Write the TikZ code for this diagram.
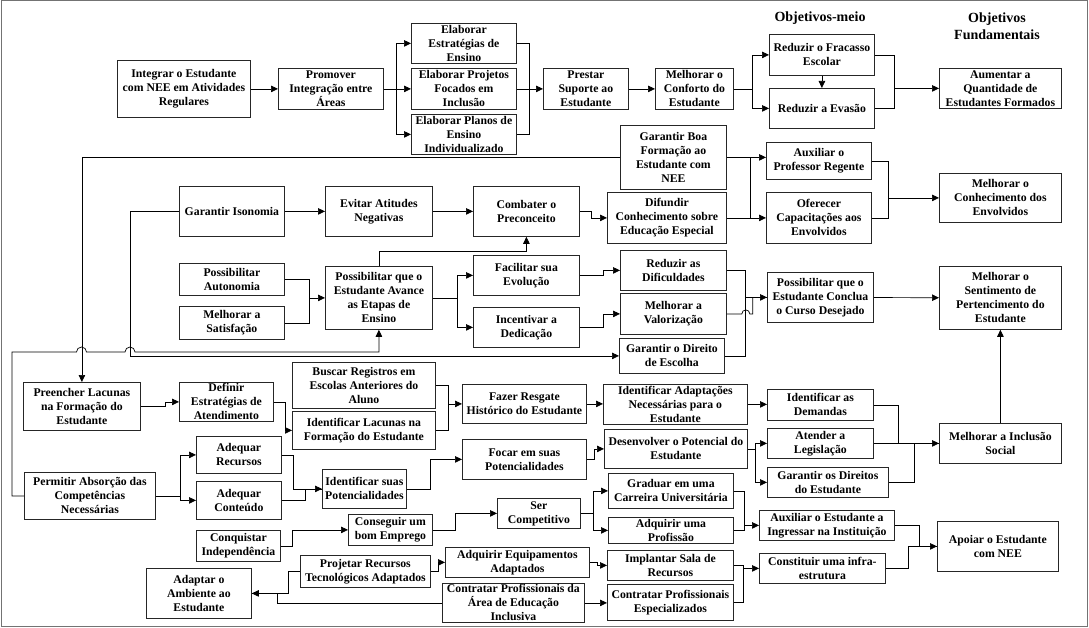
\documentclass[tikz,border=0pt]{standalone}
\usepackage{fontspec}
\setmainfont{Liberation Serif}
\usetikzlibrary{arrows.meta}

\begin{document}
\begin{tikzpicture}[x=1pt, y=-1pt, line width=0.7pt,
  box/.style = {shape=rectangle, sharp corners, draw=black!85,
    line width=0.8pt, align=center, inner sep=0.5pt, anchor=north west,
    font=\fontsize{11.75}{14}\selectfont\bfseries},
  sz/.style 2 args = {minimum width=#1pt, minimum height=#2pt},
  head/.style = {align=center, font=\fontsize{14}{17}\selectfont\bfseries},
  arr/.style = {-{Triangle[length=7pt, width=6.5pt]}}]
  \useasboundingbox (0,0) rectangle (1089,628);
  \draw[black!55, line width=1pt] (1,1) rectangle (1087,626);

  \node[head] (objmeio) at (820,18) {Objetivos-meio};
  \node[head] (objfund) at (997,26.5) {Objetivos\\Fundamentais};

  % top row
  \node[box, sz={133}{57}] (integrar) at (117,60) {Integrar o Estudante\\com NEE em Atividades\\Regulares};
  \node[box, sz={105}{41}] (promover) at (278,68) {Promover\\Integração entre\\Áreas};
  \node[box, sz={105}{40}] (elabestr) at (411,23) {Elaborar\\Estratégias de\\Ensino};
  \node[box, sz={105}{41}] (elabproj) at (411,68) {Elaborar Projetos\\Focados em\\Inclusão};
  \node[box, sz={105}{40}] (elabplan) at (411,114) {Elaborar Planos de\\Ensino\\Individualizado};
  \node[box, sz={85}{41}] (prestar) at (543,68) {Prestar\\Suporte ao\\Estudante};
  \node[box, sz={78}{41}] (conforto) at (655,68) {Melhorar o\\Conforto do\\Estudante};
  \node[box, sz={105}{41}] (fracasso) at (769,34) {Reduzir o Fracasso\\Escolar};
  \node[box, sz={105}{40}] (evasao) at (769,88) {Reduzir a Evasão};
  \node[box, sz={122}{40}] (aumentar) at (939,68) {Aumentar a\\Quantidade de\\Estudantes Formados};

  % knowledge
  \node[box, sz={106}{64}] (garboa) at (620,125) {Garantir Boa\\Formação ao\\Estudante com\\NEE};
  \node[box, sz={105}{37}] (auxprof) at (766,142) {Auxiliar o\\Professor Regente};
  \node[box, sz={105}{51}] (oferecer) at (766,192) {Oferecer\\Capacitações aos\\Envolvidos};
  \node[box, sz={122}{49}] (conhec) at (939,173) {Melhorar o\\Conhecimento dos\\Envolvidos};
  \node[box, sz={105}{50}] (isonomia) at (179,186) {Garantir Isonomia};
  \node[box, sz={107}{50}] (evitar) at (325,186) {Evitar Atitudes\\Negativas};
  \node[box, sz={106}{50}] (combater) at (473,186) {Combater o\\Preconceito};
  \node[box, sz={119}{51}] (difundir) at (607,192) {Difundir\\Conhecimento sobre\\Educação Especial};

  % belonging
  \node[box, sz={105}{32}] (autonomia) at (179,263) {Possibilitar\\Autonomia};
  \node[box, sz={105}{33}] (satisf) at (179,306) {Melhorar a\\Satisfação};
  \node[box, sz={107}{63}] (avance) at (325,266) {Possibilitar que o\\Estudante Avance\\as Etapas de\\Ensino};
  \node[box, sz={106}{40}] (facilitar) at (473,255) {Facilitar sua\\Evolução};
  \node[box, sz={106}{40}] (incentivar) at (473,307) {Incentivar a\\Dedicação};
  \node[box, sz={106}{40}] (reduzdif) at (620,250) {Reduzir as\\Dificuldades};
  \node[box, sz={106}{41}] (valoriz) at (620,293) {Melhorar a\\Valorização};
  \node[box, sz={105}{35}] (direito) at (619,338) {Garantir o Direito\\de Escolha};
  \node[box, sz={106}{50}] (conclua) at (767,272) {Possibilitar que o\\Estudante Conclua\\o Curso Desejado};
  \node[box, sz={122}{63}] (sentimento) at (939,266) {Melhorar o\\Sentimento de\\Pertencimento do\\Estudante};

  % inclusion
  \node[box, sz={117}{48}] (preencher) at (23,382) {Preencher Lacunas\\na Formação do\\Estudante};
  \node[box, sz={94}{39}] (definir) at (179,382) {Definir\\Estratégias de\\Atendimento};
  \node[box, sz={143}{46}] (buscar) at (292,362) {Buscar Registros em\\Escolas Anteriores do\\Aluno};
  \node[box, sz={143}{38}] (identlac) at (292,411) {Identificar Lacunas na\\Formação do Estudante};
  \node[box, sz={124}{39}] (resgate) at (462,384) {Fazer Resgate\\Histórico do Estudante};
  \node[box, sz={144}{40}] (adapt) at (603,384) {Identificar Adaptações\\Necessárias para o\\Estudante};
  \node[box, sz={106}{31}] (demandas) at (767,389) {Identificar as\\Demandas};
  \node[box, sz={124}{40}] (focar) at (462,439) {Focar em suas\\Potencialidades};
  \node[box, sz={143}{39}] (desenv) at (604,429) {Desenvolver o Potencial do\\Estudante};
  \node[box, sz={106}{30}] (legisl) at (767,428) {Atender a\\Legislação};
  \node[box, sz={121}{30}] (direitos) at (767,467) {Garantir os Direitos\\do Estudante};
  \node[box, sz={122}{40}] (inclusao) at (939,423) {Melhorar a Inclusão\\Social};
  \node[box, sz={85}{37}] (recursos) at (196,436) {Adequar\\Recursos};
  \node[box, sz={85}{38}] (conteudo) at (196,481) {Adequar\\Conteúdo};
  \node[box, sz={131}{47}] (permitir) at (24,472) {Permitir Absorção das\\Competências\\Necessárias};
  \node[box, sz={84}{39}] (identpot) at (322,469) {Identificar suas\\Potencialidades};

  % support
  \node[box, sz={84}{31}] (conquistar) at (196,530) {Conquistar\\Independência};
  \node[box, sz={84}{31}] (emprego) at (348,514) {Conseguir um\\bom Emprego};
  \node[box, sz={83}{30}] (competitivo) at (497,498) {Ser\\Competitivo};
  \node[box, sz={125}{35}] (graduar) at (608,473) {Graduar em uma\\Carreira Universitária};
  \node[box, sz={125}{26}] (profissao) at (608,517) {Adquirir uma\\Profissão};
  \node[box, sz={135}{30}] (ingressar) at (759,510) {Auxiliar o Estudante a\\Ingressar na Instituição};
  \node[box, sz={144}{30}] (equip) at (445,547) {Adquirir Equipamentos\\Adaptados};
  \node[box, sz={126}{30}] (sala) at (607,550) {Implantar Sala de\\Recursos};
  \node[box, sz={142}{39}] (contrarea) at (442,583) {Contratar Profissionais da\\Área de Educação\\Inclusiva};
  \node[box, sz={126}{36}] (contresp) at (607,584) {Contratar Profissionais\\Especializados};
  \node[box, sz={126}{30}] (infra) at (759,553) {Constituir uma infra-\\estrutura};
  \node[box, sz={121}{50}] (apoiar) at (937,521) {Apoiar o Estudante\\com NEE};
  \node[box, sz={130}{32}] (projetar) at (300,555) {Projetar Recursos\\Tecnológicos Adaptados};
  \node[box, sz={105}{50}] (ambiente) at (146,568) {Adaptar o\\Ambiente ao\\Estudante};

  % top row connectors
  \draw[arr] (integrar) -- (promover);
  \draw[arr] (promover.east) -- ++(13,0) |- (elabestr.west);
  \draw[arr] (promover.east) -- ++(13,0) |- (elabplan.west);
  \draw[arr] (promover) -- (elabproj);
  \draw (elabestr.east) -- ++(13,0) |- (elabplan.east);
  \draw[arr] (elabproj) -- (prestar);
  \draw[arr] (prestar) -- (conforto);
  \draw[arr] (conforto.east) -- ++(19,0) |- (fracasso.west);
  \draw[arr] (conforto.east) -- ++(19,0) |- (evasao.west);
  \draw[arr] (fracasso) -- (evasao);
  \draw (fracasso.east) -- ++(20,0) |- (evasao.east);
  \draw[arr] (aumentar.west) ++(-45,0) -- (aumentar.west);

  % knowledge connectors
  \draw[arr] (garboa.west) -| (preencher.north);
  \draw[arr] (garboa.east) -- (garboa.east -| auxprof.west);
  \draw (garboa.east) ++(24,0) |- (difundir.east);
  \draw[arr] (difundir) -- (oferecer);
  \draw (auxprof.east) -- ++(17,0) |- (oferecer.east);
  \draw[arr] (conhec.west) ++(-51,0) -- (conhec.west);
  \draw[arr] (isonomia) -- (evitar);
  \draw[arr] (evitar) -- (combater);
  \draw[arr] (combater.east) -- ++(12,0) |- (difundir.west);
  \draw[arr] (isonomia.west) -- ++(-49,0) |- (direito.west);

  % belonging connectors
  \draw (autonomia.east) -- ++(25,0) |- (satisf.east);
  \draw[arr] (avance.west) ++(-16,0) -- (avance.west);
  \draw[arr] (avance.north) -- ++(0,-15) -| (combater.south);
  \draw[arr] (avance.east) -- ++(25,0) |- (facilitar.west);
  \draw[arr] (avance.east) -- ++(25,0) |- (incentivar.west);
  \draw[arr] (facilitar.east) -- ++(24,0) |- (reduzdif.west);
  \draw[arr] (incentivar.east) -- ++(24,0) |- (valoriz.west);
  \draw (reduzdif.east) -- ++(19,0) |- (direito.east);
  \draw (valoriz.east) -- ++(15,0) arc[start angle=180, end angle=0, radius=4pt]
    -- ++(3,0) |- (conclua.west);
  \draw[arr] (conclua.west) ++(-22,0) -- (conclua.west);
  \draw[arr] (conclua) -- (sentimento);
  \draw[arr] (inclusao) -- (sentimento);
  \draw[arr] (permitir.west) -- ++(-12,0) |- (76.5,352)
    arc[start angle=180, end angle=0, radius=5pt] -- (125,352)
    arc[start angle=180, end angle=0, radius=5pt] -| (avance.south);

  % inclusion connectors
  \draw[arr] (preencher.east) -- ++(25,0) |- (definir.west);
  \draw[arr] (definir.east) -- ++(12,0) |- (identlac.west);
  \draw (buscar.east) -- ++(13,0) |- (identlac.east);
  \draw[arr] (resgate.west) ++(-14,0) -- (resgate.west);
  \draw[arr] (resgate.east) -- (resgate.east -| adapt.west);
  \draw[arr] (adapt.east) -- (adapt.east -| demandas.west);
  \draw (demandas.east) -- ++(25,0) |- (inclusao.west);
  \draw[arr] (legisl) -- (inclusao);
  \draw (direitos.east) -- ++(26,0) |- (inclusao.west);
  \draw[arr] (focar.east) -- ++(8,0) |- (desenv.west);
  \draw[arr] (desenv.east) -- ++(8,0) |- (legisl.west);
  \draw[arr] (desenv.east) -- ++(8,0) |- (direitos.west);
  \draw[arr] (permitir.east) -- ++(25,0) |- (recursos.west);
  \draw[arr] (permitir.east) -- ++(25,0) |- (conteudo.west);
  \draw (recursos.east) -- ++(12,0) |- (identpot.west);
  \draw[arr] (conteudo.east) -- ++(24,0) |- (identpot.west);
  \draw[arr] (identpot.east) -- ++(24,0) |- (focar.west);

  % support connectors
  \draw[arr] (conquistar.east) -- ++(12,0) |- (emprego.west);
  \draw[arr] (emprego.east) -- ++(23,0) |- (competitivo.west);
  \draw[arr] (competitivo.east) -- ++(13,0) |- (graduar.west);
  \draw[arr] (competitivo.east) -- ++(13,0) |- (profissao.west);
  \draw (graduar.east) -- ++(11,0) |- (profissao.east);
  \draw[arr] (ingressar.west) ++(-15,0) -- (ingressar.west);
  \draw[arr] (projetar.east) -- ++(8,0) |- (equip.west);
  \draw[arr] (projetar.west) -- ++(-12,0) |- (ambiente.east);
  \draw (contrarea.west) -- ++(-165,0) |- (ambiente.east);
  \draw[arr] (equip.east) -- ++(8,0) |- (sala.west);
  \draw[arr] (contrarea.east) -- (contrarea.east -| contresp.west);
  \draw (sala.east) -- ++(10,0) |- (contresp.east);
  \draw[arr] (infra.west) ++(-16,0) -- (infra.west);
  \draw (ingressar.east) -- ++(25,0) |- (apoiar.west);
  \draw[arr] (infra.east) -- ++(23,0) |- (apoiar.west);
\end{tikzpicture}
\end{document}
